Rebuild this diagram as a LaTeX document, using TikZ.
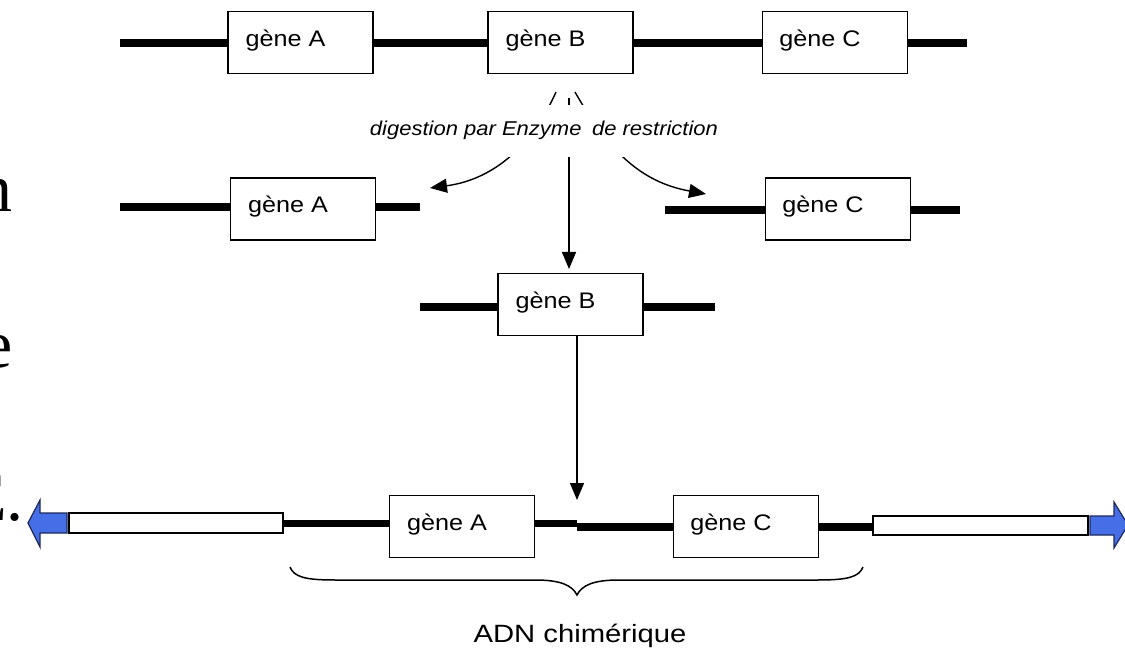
\documentclass[tikz,border=0pt]{standalone}
\usepackage{fontspec}
\setmainfont{Liberation Sans}
\newfontfamily\slideserif{Liberation Serif}
\usetikzlibrary{arrows.meta}
\definecolor{bluearr}{RGB}{70,110,230}
\definecolor{bluedge}{RGB}{30,40,90}
\newcommand{\hs}[2][1.12]{\scalebox{#1}[1]{#2}}
\begin{document}
\begin{tikzpicture}[x=1bp,y=-1bp,
  dna/.style={line width=7.5bp,black},
  genebox/.style={draw,line width=1.6bp,fill=white,minimum width=145bp,minimum height=62bp,inner sep=0pt},
  genetext/.style={font=\fontsize{22.5bp}{26bp}\selectfont,anchor=base,inner sep=0pt},
  arr/.style={line width=1.4bp,-{Triangle[length=17bp,width=14bp]}},
  digtext/.style={font=\fontsize{20bp}{23bp}\selectfont\itshape,fill=white,minimum height=52bp,inner xsep=2bp,anchor=base},
  plasmid/.style={draw,line width=1.6bp,fill=white},
  bluearrow/.style={draw=bluedge,line width=1.2bp,fill=bluearr,line join=miter},
  slideletter/.style={font=\slideserif\fontsize{68bp}{70bp}\selectfont,anchor=base east,inner sep=0pt},
  bracestyle/.style={line width=1.5bp}
]
\useasboundingbox (0,0) rectangle (1125,648);

% cut-off slide text on the left
\node[slideletter] (l1) at (13,212) {n};
\node[slideletter] (l2) at (12.5,367) {e};
\node[slideletter] (l3) at (24,520) {E.};

% ---------- row 1 : genomic DNA
\draw[dna] (120,43) -- (967,43);
\node[genebox] (gA1) at (300.5,42.5) {};
\node[genebox] (gB1) at (560.5,42.5) {};
\node[genebox] (gC1) at (835,42.5) {};
\node[genetext] (tA1) at ([shift={(-15,4)}]gA1.center) {\hs{gène A}};
\node[genetext] (tB1) at ([shift={(-15,4)}]gB1.center) {\hs{gène B}};
\node[genetext] (tC1) at ([shift={(-15,4)}]gC1.center) {\hs{gène C}};

% ---------- digestion arrows
\coordinate (s1) at (556,92);
\coordinate (t1) at (430,188);
\coordinate (s2) at (569,98);
\coordinate (t2) at (569,269);
\coordinate (s3) at (575,92);
\coordinate (t3) at (706,194);
\draw[arr] (s1) .. controls (530,150) and (490,180) .. (t1);
\draw[arr] (s2) -- (t2);
\draw[arr] (s3) .. controls (608,150) and (640,182) .. (t3);
\node[digtext] (dig) at (544,136) {\hs[1.1]{digestion par Enzyme\hspace{4bp} de restriction}};

% ---------- row 2 : fragments A and C
\draw[dna] (120,207) -- (420,207);
\draw[dna] (665,210) -- (960,210);
\node[genebox] (gA2) at (303,209) {};
\node[genebox] (gC2) at (838,209) {};
\node[genetext] (tA2) at ([shift={(-15,4)}]gA2.center) {\hs{gène A}};
\node[genetext] (tC2) at ([shift={(-15,4)}]gC2.center) {\hs{gène C}};

% ---------- row 3 : fragment B
\draw[dna] (420,307) -- (715,307);
\node[genebox] (gB3) at (570.5,304.5) {};
\node[genetext] (tB3) at ([shift={(-15,4)}]gB3.center) {\hs{gène B}};

% ---------- arrow to row 4
\coordinate (t4) at (577,500);
\draw[arr] (gB3.south -| t4) -- (t4);

% ---------- row 4 : chimeric DNA
\draw[dna] (283,523.5) -- (577,523.5);
\draw[dna] (577,527) -- (873,527);
\draw[plasmid] (69,513) rectangle (283,533);
\draw[plasmid] (873,516) rectangle (1088,535);
\draw[bluearrow] (67,513) -- (40,513) -- (40,500) -- (28,523) -- (40,547) -- (40,533) -- (67,533) -- cycle;
\draw[bluearrow] (1090,516) -- (1114,516) -- (1114,502) -- (1128,525) -- (1114,548) -- (1114,535) -- (1090,535) -- cycle;
\node[genebox] (gA4) at (462,526.5) {};
\node[genebox] (gC4) at (746,526.5) {};
\node[genetext] (tA4) at ([shift={(-15,4)}]gA4.center) {\hs{gène A}};
\node[genetext] (tC4) at ([shift={(-15,4)}]gC4.center) {\hs{gène C}};

% ---------- brace and label
\draw[bracestyle] (290,567) .. controls (294,577) and (305,580) .. (335,580) -- (535,580)
  .. controls (560,580) and (572,585) .. (577,595)
  .. controls (582,585) and (594,580) .. (619,580) -- (818,580)
  .. controls (848,580) and (859,577) .. (863,567);
\node[font=\fontsize{25bp}{29bp}\selectfont,anchor=base,inner sep=0pt] (adn) at (580,642) {\hs[1.17]{ADN chimérique}};
\end{tikzpicture}
\end{document}
